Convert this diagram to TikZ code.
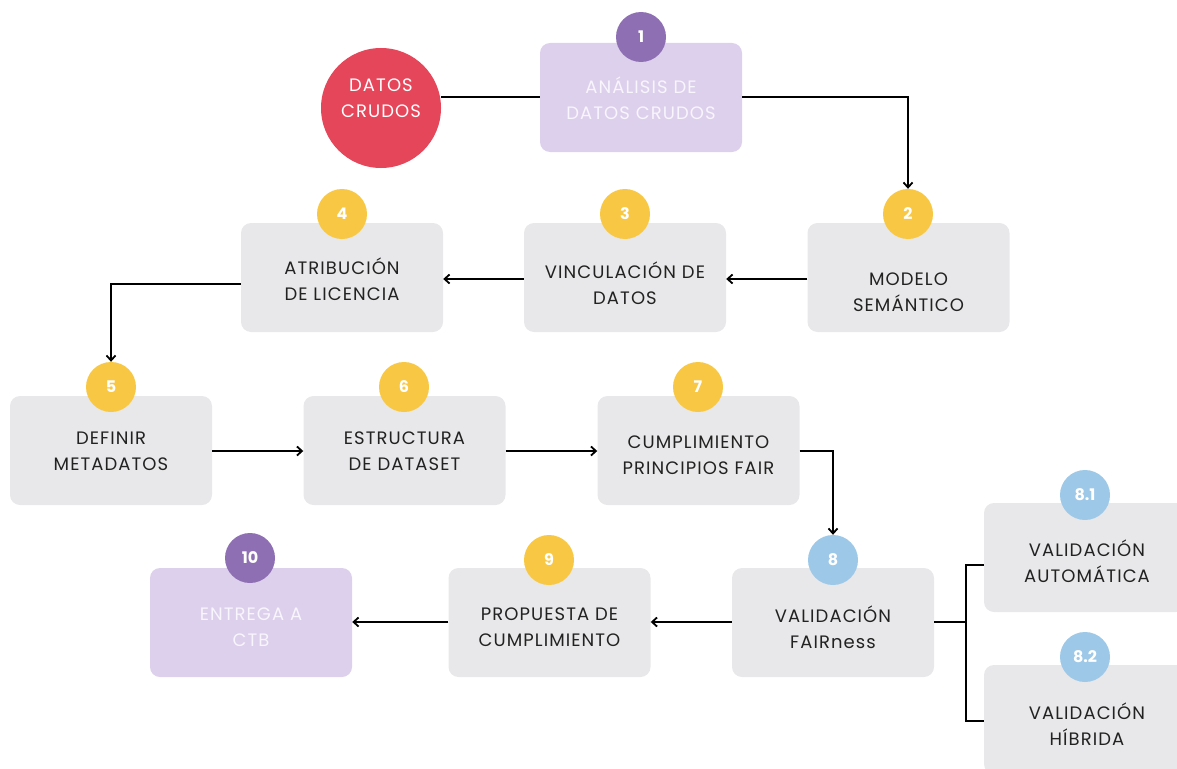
\documentclass[tikz,border=0pt]{standalone}
\usepackage{fontspec}
\setmainfont{Poppins}
\newfontfamily\boxfont[LetterSpace=6]{Poppins}
\usetikzlibrary{arrows.meta}
\definecolor{boxgrey}{HTML}{E8E8EA}
\definecolor{boxlilac}{HTML}{DDD0EC}
\definecolor{badgepurple}{HTML}{8E6FB3}
\definecolor{badgeyellow}{HTML}{F8C844}
\definecolor{badgeblue}{HTML}{9DC8E8}
\definecolor{rawred}{HTML}{E5465A}
\definecolor{txtdark}{HTML}{222222}
\definecolor{txtlight}{HTML}{F8F5FC}
\tikzset{
  stepbox/.style={fill=boxgrey, rounded corners=10pt, minimum width=202pt, minimum height=109pt, inner sep=0pt},
  lilacbox/.style={stepbox, fill=boxlilac},
  label/.style={align=center, font=\boxfont\fontsize{18}{26}\selectfont, text=txtdark},
  lightlabel/.style={label, text=txtlight},
  badge/.style={circle, minimum size=50pt, inner sep=0pt, font=\fontsize{16}{16}\selectfont\bfseries, text=white},
  ybadge/.style={badge, fill=badgeyellow},
  pbadge/.style={badge, fill=badgepurple},
  bbadge/.style={badge, fill=badgeblue},
  conn/.style={line width=1.8pt, draw=black},
  arr/.style={conn, -{Straight Barb[length=5pt,width=9pt,line width=1.8pt]}},
}
\begin{document}
\begin{tikzpicture}[x=1pt,y=-1pt]
\useasboundingbox (0,0) rectangle (1177,768);
\clip (0,0) rectangle (1177,768);
% raw data
\node[circle, fill=rawred, minimum size=120pt, inner sep=0pt] (raw) at (381,108) {};
\node[lightlabel, text=white] at (381,98) {DATOS\\CRUDOS};
% boxes
\node[lilacbox] (b1) at (641,97.5) {};
\node[stepbox] (b2) at (908.5,277.5) {};
\node[stepbox] (b3) at (625,277.5) {};
\node[stepbox] (b4) at (342,277.5) {};
\node[stepbox] (b5) at (111,450.5) {};
\node[stepbox] (b6) at (404.5,450.5) {};
\node[stepbox] (b7) at (698.5,450.5) {};
\node[stepbox] (b8) at (833,622.5) {};
\node[stepbox] (b9) at (549.5,622.5) {};
\node[lilacbox] (b10) at (251,622.5) {};
\node[stepbox] (b81) at (1085,557.5) {};
\node[stepbox] (b82) at (1085,719.5) {};
% labels
\node[lightlabel] (t1) at (641,98) {ANÁLISIS DE\\DATOS CRUDOS};
\node[label] (t2) at (908.5,292) {MODELO\\SEMÁNTICO};
\node[label] (t3) at (625,283) {VINCULACIÓN DE\\DATOS};
\node[label] (t4) at (342,279) {ATRIBUCIÓN\\DE LICENCIA};
\node[label] (t5) at (111,451) {DEFINIR\\METADATOS};
\node[label] (t6) at (404.5,451) {ESTRUCTURA\\DE DATASET};
\node[label] (t7) at (698.5,455) {CUMPLIMIENTO\\PRINCIPIOS FAIR};
\node[label] (t8) at (833,627) {VALIDACIÓN\\FAIRness};
\node[label] (t9) at (549.5,627) {PROPUESTA DE\\CUMPLIMIENTO};
\node[lightlabel] (t10) at (251,627) {ENTREGA A\\CTB};
\node[label] (t81) at (1087,561) {VALIDACIÓN\\AUTOMÁTICA};
\node[label] (t82) at (1087,724) {VALIDACIÓN\\HÍBRIDA};
% badges
\node[pbadge] (n1) at (641,37) {1};
\node[ybadge] (n2) at (908,214) {2};
\node[ybadge] (n3) at (625,214) {3};
\node[ybadge] (n4) at (342,214) {4};
\node[ybadge] (n5) at (111,387) {5};
\node[ybadge] (n6) at (404,387) {6};
\node[ybadge] (n7) at (698,387) {7};
\node[bbadge] (n8) at (833,560) {8};
\node[ybadge] (n9) at (549,560) {9};
\node[pbadge] (n10) at (250,558) {10};
\node[bbadge] (n81) at (1085,495) {8.1};
\node[bbadge] (n82) at (1085,657) {8.2};
% connectors
\draw[conn] (raw.east |- 0,97) -- (b1.west |- 0,97);
\draw[arr] (b1.east |- 0,97) -| (n2.north);
\draw[arr] (b2.west |- 0,279) -- (b3.east |- 0,279);
\draw[arr] (b3.west |- 0,279) -- (b4.east |- 0,279);
\draw[arr] (b4.west |- 0,284) -| (n5.north);
\draw[arr] (b5.east |- 0,451) -- (b6.west |- 0,451);
\draw[arr] (b6.east |- 0,451) -- (b7.west |- 0,451);
\draw[arr] (b7.east |- 0,451) -| (n8.north);
\draw[arr] (b8.west |- 0,622) -- (b9.east |- 0,622);
\draw[arr] (b9.west |- 0,622) -- (b10.east |- 0,622);
\coordinate (fork) at (966,622);
\draw[conn] (b8.east |- fork) -- (fork);
\draw[conn] (b81.west |- 0,565) -| (fork) |- (b82.west |- 0,721);
\end{tikzpicture}
\end{document}
